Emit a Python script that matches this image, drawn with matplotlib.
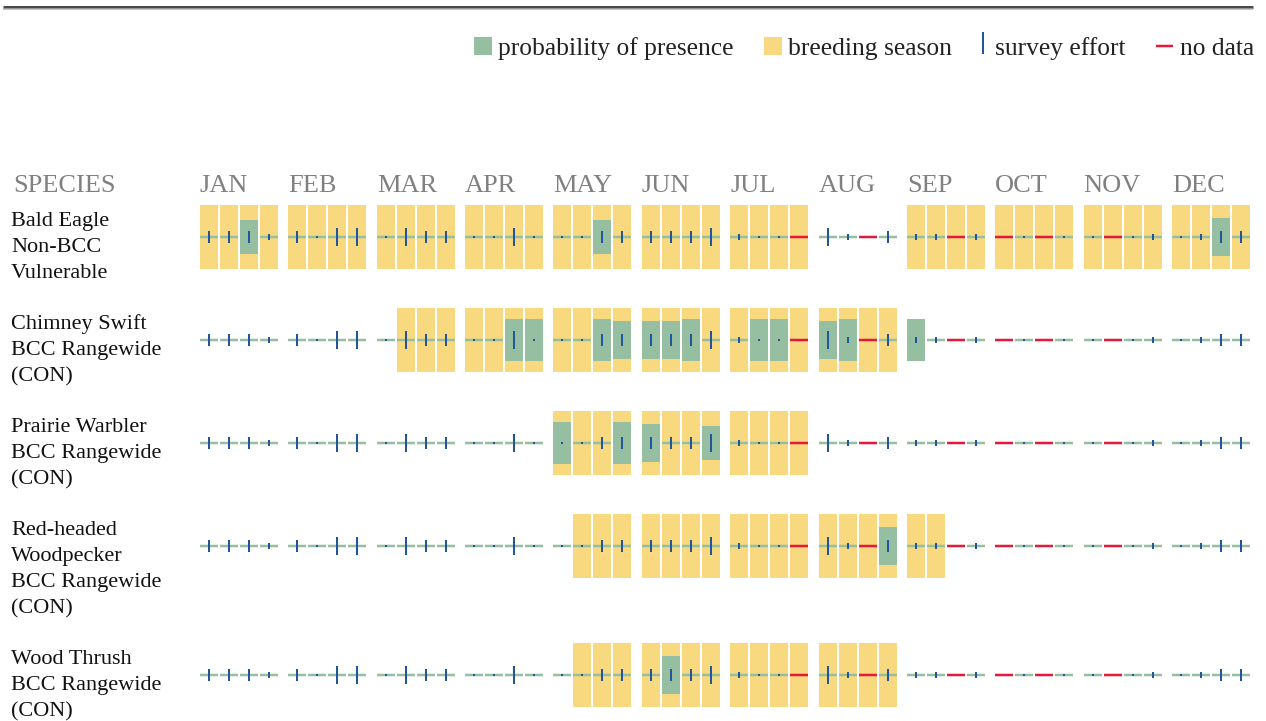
import matplotlib
matplotlib.use("Agg")
import matplotlib.pyplot as plt
from matplotlib.patches import Rectangle

plt.rcParams["font.family"] = ["Liberation Serif", "DejaVu Serif"]

months = ["JAN", "FEB", "MAR", "APR", "MAY", "JUN",
          "JUL", "AUG", "SEP", "OCT", "NOV", "DEC"]

species = [
    ["Bald Eagle", "Non-BCC", "Vulnerable"],
    ["Chimney Swift", "BCC Rangewide", "(CON)"],
    ["Prairie Warbler", "BCC Rangewide", "(CON)"],
    ["Red-headed", "Woodpecker", "BCC Rangewide", "(CON)"],
    ["Wood Thrush", "BCC Rangewide", "(CON)"],
]

# survey effort per week (0 = trace .. 3 = high), None = no data
survey_effort = [
    2, 2, 2, 1,  2, 0, 3, 3,  0, 3, 2, 2,  0, 0, 3, 0,
    0, 0, 2, 2,  2, 2, 2, 3,  1, 0, 0, None,  3, 1, None, 2,
    1, 1, None, 1,  None, 0, None, 0,  0, None, 0, 1,  0, 1, 2, 2,
]

# breeding season as (first week, last week), weeks numbered 0..47
breeding = [
    [(0, 27), (32, 47)],
    [(9, 31)],
    [(16, 27)],
    [(17, 33)],
    [(17, 31)],
]

# probability of presence (fraction of the week box), only non-zero weeks
presence = [
    {2: 0.53, 18: 0.53, 46: 0.59},
    {14: 0.66, 15: 0.66, 18: 0.66, 19: 0.59, 20: 0.59, 21: 0.59, 22: 0.66,
     25: 0.66, 26: 0.66, 28: 0.59, 29: 0.66, 32: 0.66},
    {16: 0.66, 19: 0.66, 20: 0.59, 23: 0.53},
    {31: 0.59},
    {21: 0.59},
]

# colours
YELLOW = "#f9d97f"
GREEN = "#96bfa2"
BLUE = "#22569a"
RED = "#e31a3a"
GREY = "#808080"

# layout (pixels)
x0 = 200
month_w = 88.36
pitch = 20
box_w = 18
box_h = 64
first_row = 237
line_h = 26
effort_px = {0: 2, 1: 6, 2: 12, 3: 18}
PT = 0.72  # points per pixel at dpi 100

fig = plt.figure(figsize=(12.66, 7.21), dpi=100)
ax = fig.add_axes([0, 0, 1, 1])
ax.set_xlim(0, 1266)
ax.set_ylim(721, 0)
ax.axis("off")

# top rule
ax.plot([3, 1253], [6.5, 6.5], color="#4a4a4a", lw=3 * PT, solid_capstyle="butt")
ax.plot([3, 1253], [8.8, 8.8], color="#b0b0b0", lw=1.5 * PT, solid_capstyle="butt")

# legend
ax.add_patch(Rectangle((474, 37), 18, 18, color=GREEN, lw=0))
ax.text(498, 55, "probability of presence", fontsize=18.4, color="#222222")
ax.add_patch(Rectangle((764, 37), 18, 18, color=YELLOW, lw=0))
ax.text(788, 55, "breeding season", fontsize=18.4, color="#222222")
ax.plot([983, 983], [32, 54], color=BLUE, lw=2 * PT, solid_capstyle="butt")
ax.text(995, 55, "survey effort", fontsize=18.4, color="#222222")
ax.plot([1156, 1173], [46, 46], color=RED, lw=2.5 * PT, solid_capstyle="butt")
ax.text(1180, 55, "no data", fontsize=18.4, color="#222222")

# header
ax.text(13, 192, "SPECIES", fontsize=19, color=GREY)
for m, name in enumerate(months):
    ax.text(x0 + m * month_w, 192, name, fontsize=19, color=GREY)


def week_x(w):
    return x0 + (w // 4) * month_w + (w % 4) * pitch


yc = first_row
for s, lines in enumerate(species):
    for i, t in enumerate(lines):
        ax.text(11, yc - 11 + i * line_h, t, fontsize=16, color="#111111")

    for start, end in breeding[s]:
        for w in range(start, end + 1):
            ax.add_patch(Rectangle((week_x(w), yc - box_h / 2), box_w, box_h,
                                   color=YELLOW, lw=0))
    for w, p in presence[s].items():
        h = p * box_h
        ax.add_patch(Rectangle((week_x(w), yc - h / 2), box_w, h,
                               color=GREEN, lw=0))

    for w, e in enumerate(survey_effort):
        xl = week_x(w)
        col = RED if e is None else GREEN
        ax.plot([xl, xl + box_w], [yc, yc], color=col, lw=2.5 * PT,
                solid_capstyle="butt")
        if e is not None:
            h = effort_px[e]
            ax.plot([xl + box_w / 2, xl + box_w / 2], [yc - h / 2, yc + h / 2],
                    color=BLUE, lw=2 * PT, solid_capstyle="butt")

    # row height grows with the number of label lines
    yc += line_h * len(lines) + 25

fig.savefig("out.png", dpi=100)
